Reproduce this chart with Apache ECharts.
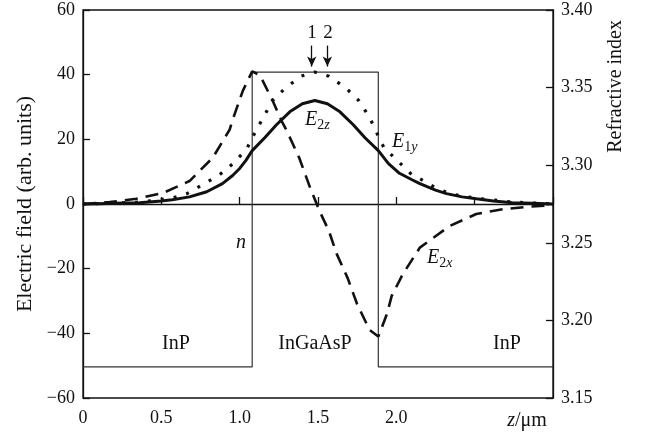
<!DOCTYPE html>
<html>
<head>
<meta charset="utf-8">
<script src="https://cdn.jsdelivr.net/npm/echarts@6/dist/echarts.min.js"></script>
<style>
  html, body { margin: 0; padding: 0; background: #fff; }
  #chart { width: 650px; height: 436px; }
</style>
</head>
<body>
<div id="chart"></div>
<script>
// refractive index profile (right axis)
var nX   = [0, 1.08, 1.08, 1.885, 1.885, 3.0];
var nVal = [3.17, 3.17, 3.36, 3.36, 3.17, 3.17];

// E2z  (solid)
var e2zX = [0, 0.1, 0.2, 0.36, 0.5, 0.57, 0.68, 0.79, 0.89, 0.955, 1.0, 1.04, 1.08,
            1.16, 1.235, 1.32, 1.4, 1.48, 1.56, 1.64, 1.725, 1.8, 1.885,
            1.95, 2.02, 2.1, 2.15, 2.25, 2.32, 2.42, 2.51, 2.62, 2.74, 2.87, 3.0];
var e2zY = [0, 0.1, 0.2, 0.4, 0.9, 1.3, 2.2, 3.8, 6.3, 8.8, 11, 13.5, 16.5,
            20.5, 24.5, 28.5, 31, 32, 31, 28.5, 24.5, 20.5, 16.5,
            12.5, 9.5, 7.5, 6.3, 4.3, 3.2, 2.2, 1.6, 0.9, 0.4, 0.2, 0];

// E1y  (dotted)
var e1yX = [0, 0.2, 0.36, 0.47, 0.57, 0.66, 0.76, 0.87, 0.955, 1.045, 1.08,
            1.15, 1.21, 1.29, 1.39, 1.48, 1.57, 1.68, 1.76, 1.83, 1.885,
            1.92, 2.02, 2.1, 2.15, 2.25, 2.35, 2.45, 2.55, 2.74, 3.0];
var e1yY = [0, 0.3, 0.6, 1.2, 1.9, 3.1, 5.9, 9, 12.4, 17, 20.5,
            26.7, 32, 35.8, 39.5, 40.8, 39.5, 35.8, 32, 26.7, 21,
            17.5, 12.8, 9, 7.8, 5, 3.1, 2.2, 1.6, 0.6, 0];

// E2x  (dashed)
var e2xX = [0, 0.17, 0.34, 0.51, 0.68, 0.828, 0.936, 0.955, 1.02, 1.08,
            1.13, 1.21, 1.27, 1.3, 1.38, 1.45, 1.51, 1.57, 1.62, 1.69, 1.75, 1.83, 1.885,
            1.94, 1.97, 2.04, 2.15, 2.34, 2.51, 2.68, 2.83, 3.0];
var e2xY = [0, 0.6, 1.6, 3.4, 7.1, 14.3, 23, 26, 35, 41,
            39.8, 32, 25.5, 22.7, 14.3, 5, -2.2, -8.4, -15.5, -23, -31, -39, -41,
            -34, -28.5, -21.8, -13.5, -6.8, -3.1, -1.6, -0.9, -0.3];

// arrows "1" and "2"
var arrowX = [1.46, 1.56];
var arrowTop = 49, arrowTip = 42.5;

var xTickLabels = {'0': '0', '0.5': '0.5', '1': '1.0', '1.5': '1.5', '2': '2.0'};

function pairs(xs, ys) {
    return xs.map(function (x, i) { return [x, ys[i]]; });
}

var font = 'Liberation Serif, Times New Roman, serif';
var black = '#111';

// E with a subscript: upright digit, italic letter
function fieldLabel(x, y, digit, letter) {
    return { type: 'text', x: x, y: y, style: {
        text: '{e|E}{d|' + digit + '}{l|' + letter + '}', textVerticalAlign: 'middle',
        rich: { e: { font: 'italic 20px ' + font, fill: black },
                d: { font: '14px ' + font, fill: black, padding: [10, 0, 0, 0] },
                l: { font: 'italic 14px ' + font, fill: black, padding: [10, 0, 0, 0] } } } };
}

function plainText(x, y, text, style) {
    return { type: 'text', x: x, y: y, style: { text: text, font: style + ' ' + font,
             fill: black, textAlign: 'center', textVerticalAlign: 'middle' } };
}

var chart = echarts.init(document.getElementById('chart'));

var option = {
    animation: false,
    backgroundColor: '#fff',
    textStyle: { fontFamily: font },
    grid: { left: 83, right: 97, top: 10, bottom: 38, show: true,
            borderColor: black, borderWidth: 1.3, backgroundColor: 'transparent' },
    xAxis: {
        type: 'value', min: 0, max: 3, interval: 0.5,
        axisLine: { lineStyle: { color: black, width: 1.3 } },
        axisTick: { inside: true, length: 7, lineStyle: { color: black, width: 1.3 } },
        axisLabel: { color: black, fontSize: 18, fontFamily: font, margin: 11,
                     formatter: function (v) { return xTickLabels[String(v)] || ''; } },
        splitLine: { show: false }
    },
    yAxis: [{
        type: 'value', min: -60, max: 60, interval: 20,
        name: 'Electric field (arb. units)', nameLocation: 'middle', nameGap: 47,
        nameTextStyle: { color: black, fontSize: 22, fontFamily: font },
        axisLine: { lineStyle: { color: black, width: 1.3 } },
        axisTick: { inside: true, length: 7, lineStyle: { color: black, width: 1.3 } },
        axisLabel: { color: black, fontSize: 18, fontFamily: font, margin: 8,
                     formatter: function (v) { return String(v).replace('-', '\u2212'); } },
        splitLine: { show: false }
    }, {
        type: 'value', min: 3.15, max: 3.40, interval: 0.05, position: 'right',
        axisLine: { lineStyle: { color: black, width: 1.3 } },
        axisTick: { inside: true, length: 7, lineStyle: { color: black, width: 1.3 } },
        axisLabel: { color: black, fontSize: 18, fontFamily: font, margin: 8,
                     formatter: function (v) { return v.toFixed(2); } },
        splitLine: { show: false }
    }],
    series: [
        {
            name: 'n', type: 'line', yAxisIndex: 1, symbol: 'none',
            data: pairs(nX, nVal),
            lineStyle: { color: '#333', width: 1.2 }
        },
        {
            name: 'E2z', type: 'line', symbol: 'none',
            data: pairs(e2zX, e2zY),
            lineStyle: { color: black, width: 3 },
            markLine: {
                silent: true, symbol: ['none', 'arrow'], symbolSize: [7, 10],
                lineStyle: { color: black, width: 1.3, type: 'solid' },
                label: { show: false },
                data: arrowX.map(function (x) {
                    return [{ coord: [x, arrowTop] }, { coord: [x, arrowTip] }];
                })
            }
        },
        {
            name: 'E1y', type: 'line', symbol: 'none',
            data: pairs(e1yX, e1yY),
            lineStyle: { color: black, width: 3.2, type: [3, 10] }
        },
        {
            name: 'E2x', type: 'line', symbol: 'none',
            data: pairs(e2xX, e2xY),
            lineStyle: { color: black, width: 2.6, type: [13, 8] }
        }
    ],
    graphic: [
        { type: 'text', left: 606, top: 20, rotation: Math.PI / 2,
          style: { text: 'Refractive index', font: '20px ' + font, fill: black } },
        plainText(312, 33, '1', '19px'),
        plainText(328, 33, '2', '19px'),
        fieldLabel(305, 120, '2', 'z'),
        fieldLabel(392, 142, '1', 'y'),
        fieldLabel(427, 258, '2', 'x'),
        plainText(241, 243, 'n', 'italic 20px'),
        plainText(176, 344, 'InP', '20px'),
        plainText(315, 344, 'InGaAsP', '20px'),
        plainText(507, 344, 'InP', '20px'),
        { type: 'text', x: 527, y: 421, style: {
            text: '{i|z}{r|/μm}', textAlign: 'center', textVerticalAlign: 'middle',
            rich: { i: { font: 'italic 20px ' + font, fill: black },
                    r: { font: '20px ' + font, fill: black } } } }
    ]
};

chart.setOption(option);
</script>
</body>
</html>
